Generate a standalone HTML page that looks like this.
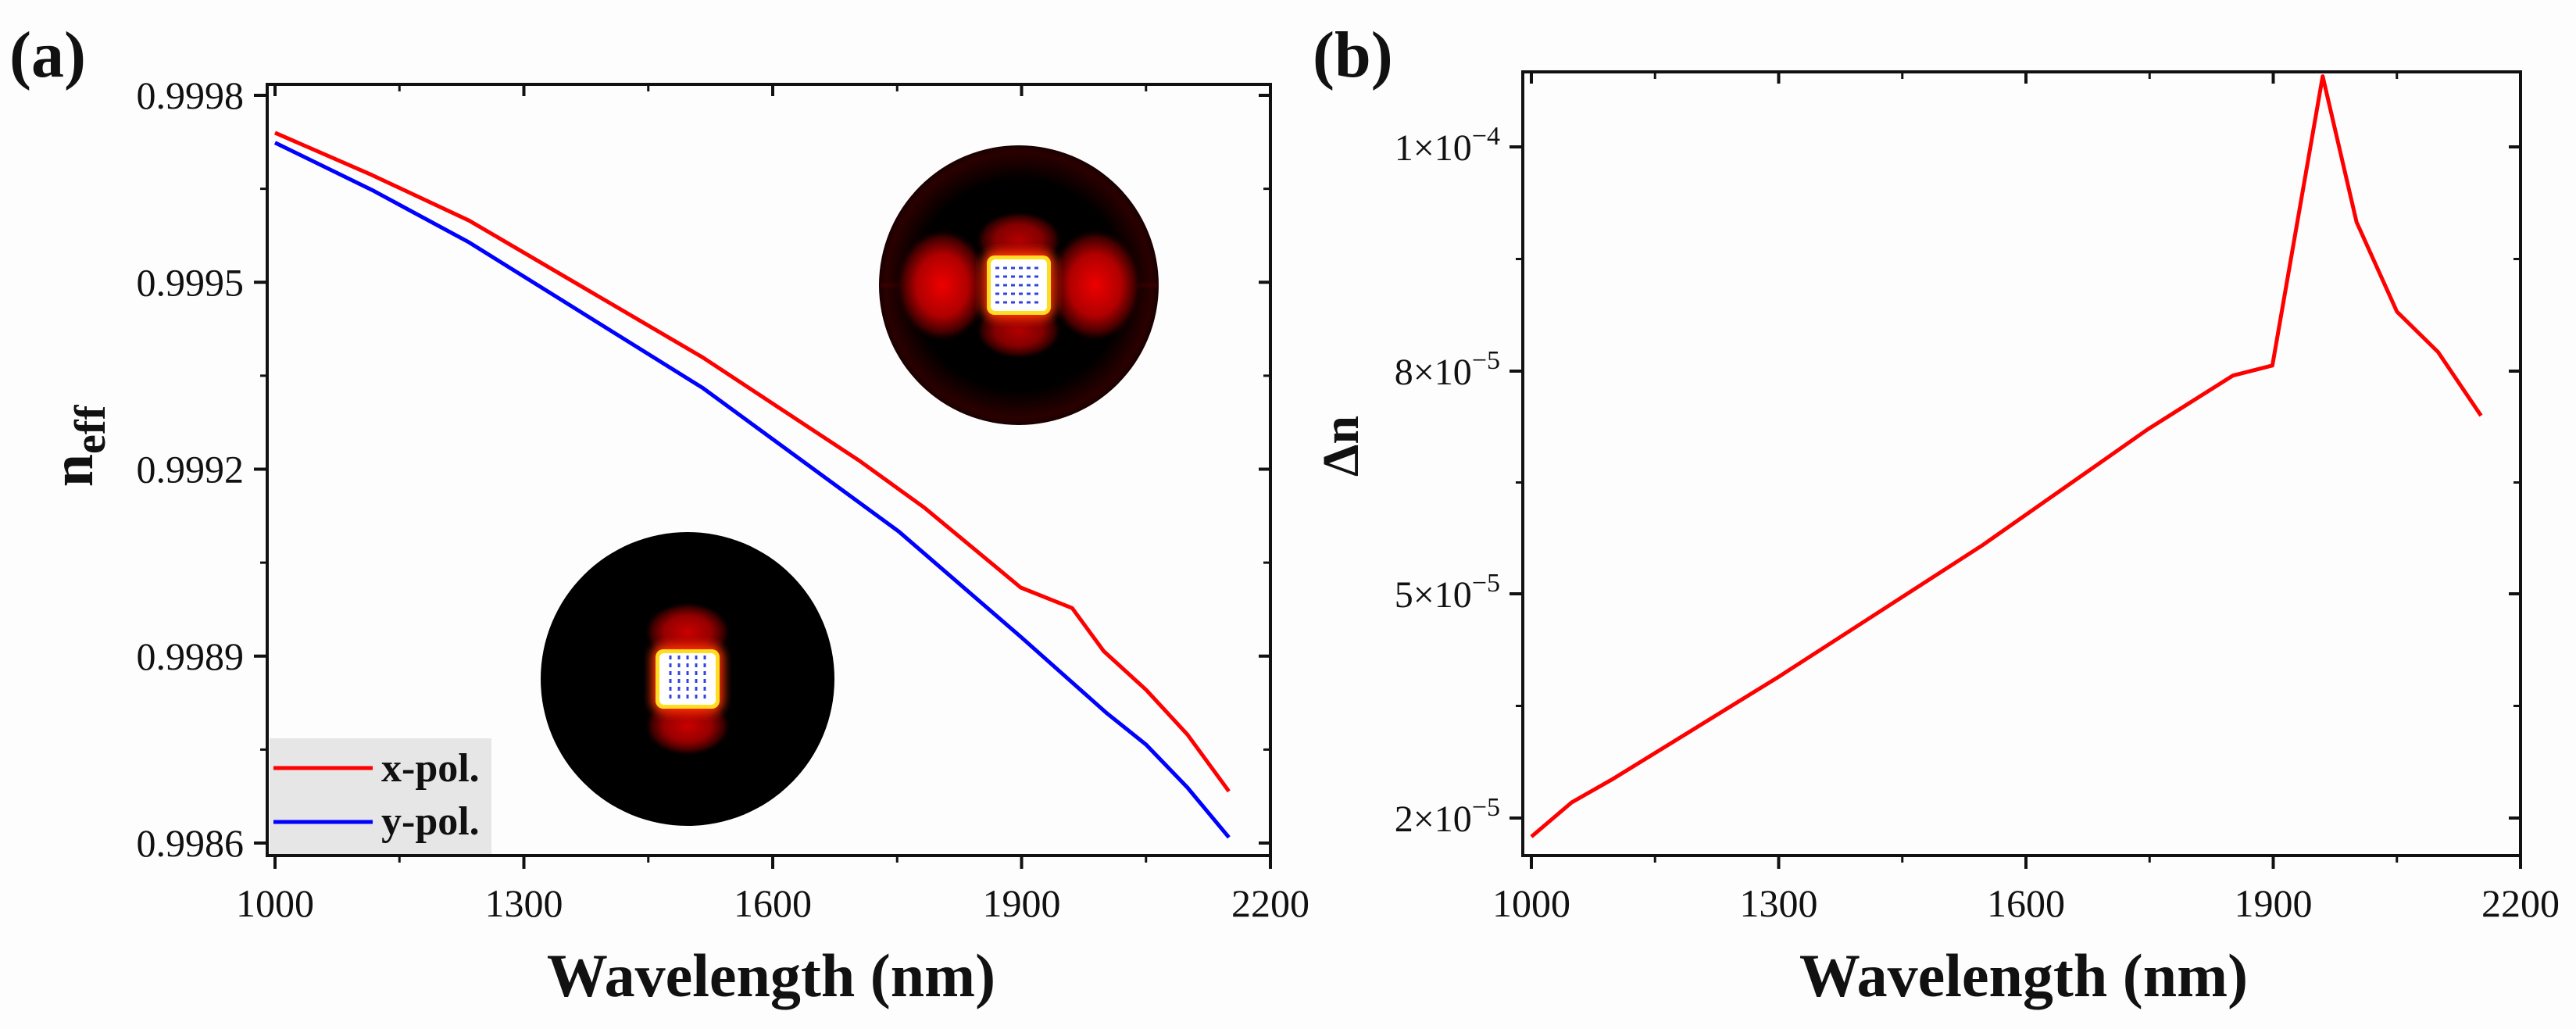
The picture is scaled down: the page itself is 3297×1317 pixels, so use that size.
<!DOCTYPE html>
<html><head><meta charset="utf-8"><style>
html,body{margin:0;padding:0;background:#fff}
svg{display:block}
text{font-family:"Liberation Serif",serif;fill:#111}
</style></head><body>
<svg id="fig" width="3297" height="1317" viewBox="0 0 3297 1317" xmlns="http://www.w3.org/2000/svg">
<defs>
<radialGradient id="lobe" cx="0.5" cy="0.5" r="0.5"><stop offset="0" stop-color="#ee0000"/><stop offset="0.55" stop-color="#b00000"/><stop offset="0.85" stop-color="#400000"/><stop offset="1" stop-color="#100000" stop-opacity="0"/></radialGradient>
<radialGradient id="ring" cx="0.5" cy="0.5" r="0.5"><stop offset="0.75" stop-color="#000"/><stop offset="0.95" stop-color="#2a0000"/><stop offset="1" stop-color="#1a0000"/></radialGradient>
<filter id="blur6"><feGaussianBlur stdDeviation="6"/></filter>
</defs>
<rect width="3297" height="1317" fill="#fdfdfd"/>
<g id="pa"></g>
<g id="pb"></g>
</svg>
<script>
// ---- Panel (a) data ----
const aWavelength = [1000, 1117, 1234, 1516, 1705, 1783, 1899, 1961, 1999, 2050, 2100, 2150];
const aXpol = [0.99974, 0.999672, 0.999599, 0.999379, 0.999213, 0.999138, 0.99901, 0.998977, 0.998908, 0.998846, 0.998774, 0.998683];
const aWavelengthY = [1000, 1117, 1234, 1516, 1752, 1899, 2003, 2050, 2100, 2150];
const aYpol = [0.999724, 0.999648, 0.999564, 0.99933, 0.9991, 0.998931, 0.998808, 0.998758, 0.998689, 0.998609];
const aXTicks = [1000, 1300, 1600, 1900, 2200];
const aYTicks = [0.9986, 0.9989, 0.9992, 0.9995, 0.9998];
const aYTickLabels = ["0.9986", "0.9989", "0.9992", "0.9995", "0.9998"];
// ---- Panel (b) data ----
const bWavelength = [1000, 1049, 1100, 1300, 1548, 1747, 1851, 1899, 1960, 2001, 2050, 2100, 2152];
const bDn = [1.75, 2.21, 2.53, 3.89, 5.66, 7.21, 7.94, 8.05, 10.63, 9.33, 8.53, 8.17, 7.4]; // ×1e-5
const bXTicks = [1000, 1300, 1600, 1900, 2200];
const bYTicks = [2, 5, 8, 10]; // ×1e-5
const bYTickMant = ["2", "5", "8", "1"];
const bYTickExp = ["−5", "−5", "−5", "−4"];

const NS = "http://www.w3.org/2000/svg";
function mk(parent, tag, attrs, txt) {
  const e = document.createElementNS(NS, tag);
  for (const k in attrs) e.setAttribute(k, attrs[k]);
  if (txt !== undefined) e.textContent = txt;
  parent.appendChild(e);
  return e;
}
const pa = document.getElementById('pa');
const pb = document.getElementById('pb');

const ax = v => 352 + (v - 1000) * (1626 - 352) / 1200;
const ay = v => 1079 - (v - 0.9986) * (1079 - 122) / 0.0012;
const bx = v => 1960 + (v - 1000) * (3226 - 1960) / 1200;
const bTickPx = [1047, 760, 475, 188];
function by(v) {
  let i = 0;
  if (v > bYTicks[1]) i = 1;
  if (v > bYTicks[2]) i = 2;
  return bTickPx[i] + (v - bYTicks[i]) * (bTickPx[i + 1] - bTickPx[i]) / (bYTicks[i + 1] - bYTicks[i]);
}

// ---- insets (panel a) ----
function inset(cx, cy, r, horiz, name) {
  const g = mk(pa, 'g', {});
  
  
  const cid = 'clip' + Math.round(cx);
  const cp = mk(document.querySelector('defs'), 'clipPath', {id: cid});
  mk(cp, 'circle', {cx: cx, cy: cy, r: r});
  mk(g, 'circle', {cx: cx, cy: cy, r: r, fill: horiz ? 'url(#ring)' : '#000'});
  const inner = mk(g, 'g', {'clip-path': 'url(#' + cid + ')'});
  if (horiz) {
    mk(inner, 'rect', {x: cx - r, y: cy - 3, width: 2 * r, height: 6, fill: '#400000', opacity: 0.5});
    mk(inner, 'ellipse', {cx: cx - 98, cy: cy, rx: 60, ry: 72, fill: 'url(#lobe)'});
    mk(inner, 'ellipse', {cx: cx + 98, cy: cy, rx: 60, ry: 72, fill: 'url(#lobe)'});
    mk(inner, 'ellipse', {cx: cx, cy: cy - 58, rx: 55, ry: 36, fill: 'url(#lobe)', opacity: 0.75});
    mk(inner, 'ellipse', {cx: cx, cy: cy + 58, rx: 55, ry: 36, fill: 'url(#lobe)', opacity: 0.75});
  } else {
    mk(inner, 'ellipse', {cx: cx, cy: cy - 60, rx: 55, ry: 38, fill: 'url(#lobe)', opacity: 0.85});
    mk(inner, 'ellipse', {cx: cx, cy: cy + 60, rx: 55, ry: 38, fill: 'url(#lobe)', opacity: 0.85});
  }
  mk(inner, 'rect', {x: cx - 46, y: cy - 44, width: 92, height: 88, rx: 16, fill: '#ff3300', filter: 'url(#blur6)'});
  mk(inner, 'rect', {x: cx - 41, y: cy - 38, width: 82, height: 76, rx: 10, fill: '#ffdd22'});
  mk(inner, 'rect', {x: cx - 36, y: cy - 33, width: 72, height: 66, rx: 6, fill: '#fff'});
  for (let k = -2; k <= 2; k++) {
    if (horiz) mk(inner, 'line', {x1: cx - 30, x2: cx + 30, y1: cy + k * 11, y2: cy + k * 11, stroke: '#3344dd', 'stroke-width': 3, 'stroke-dasharray': '5 5'});
    else mk(inner, 'line', {y1: cy - 30, y2: cy + 30, x1: cx + k * 11, x2: cx + k * 11, stroke: '#3344dd', 'stroke-width': 3, 'stroke-dasharray': '5 5'});
  }
}
inset(1304, 365, 179, true, 'x-pol-mode-inset');
inset(880, 869, 188, false, 'y-pol-mode-inset');

function frame(p, L, T, R, B, xs, xt, yPx, minorX, minorY, name) {
  const f = mk(p, 'rect', {x: L, y: T, width: R - L, height: B - T, fill: 'none', stroke: '#111', 'stroke-width': 4});
  
  
  xt.forEach(v => {
    const x = xs(v);
    mk(p, 'line', {x1: x, x2: x, y1: B, y2: B + 17, stroke: '#111', 'stroke-width': 4});
    mk(p, 'line', {x1: x, x2: x, y1: T, y2: T + 15, stroke: '#111', 'stroke-width': 4});
  });
  minorX.forEach(x => {
    mk(p, 'line', {x1: x, x2: x, y1: B, y2: B + 9, stroke: '#111', 'stroke-width': 3});
    mk(p, 'line', {x1: x, x2: x, y1: T, y2: T + 9, stroke: '#111', 'stroke-width': 3});
  });
  yPx.forEach(y => {
    mk(p, 'line', {x1: L - 17, x2: L, y1: y, y2: y, stroke: '#111', 'stroke-width': 4});
    mk(p, 'line', {x1: R - 15, x2: R, y1: y, y2: y, stroke: '#111', 'stroke-width': 4});
  });
  minorY.forEach(y => {
    mk(p, 'line', {x1: L - 9, x2: L, y1: y, y2: y, stroke: '#111', 'stroke-width': 3});
    mk(p, 'line', {x1: R - 9, x2: R, y1: y, y2: y, stroke: '#111', 'stroke-width': 3});
  });
}
const aMinX = [], bMinX = [];
for (let i = 0; i < aXTicks.length - 1; i++) { aMinX.push(ax((aXTicks[i] + aXTicks[i + 1]) / 2)); bMinX.push(bx((bXTicks[i] + bXTicks[i + 1]) / 2)); }
const aMinY = [];
for (let i = 0; i < aYTicks.length - 1; i++) aMinY.push(ay((aYTicks[i] + aYTicks[i + 1]) / 2));
const bMinY = [];
for (let i = 0; i < bYTicks.length - 1; i++) bMinY.push((by(bYTicks[i]) + by(bYTicks[i + 1])) / 2);
frame(pa, 342, 108, 1626, 1095, ax, aXTicks, aYTicks.map(ay), aMinX, aMinY, 'panel-a');
frame(pb, 1949, 92, 3226, 1095, bx, bXTicks, bYTicks.map(by), bMinX, bMinY, 'panel-b');

aXTicks.forEach(v => {
  const t = mk(pa, 'text', {x: ax(v), y: 1173, 'font-size': 50, 'text-anchor': 'middle'}, String(v));
  
  
});
aYTicks.forEach((v, i) => {
  const t = mk(pa, 'text', {x: 312, y: ay(v) + 17, 'font-size': 50, 'text-anchor': 'end'}, aYTickLabels[i]);
  
  
});
bXTicks.forEach(v => {
  const t = mk(pb, 'text', {x: bx(v), y: 1173, 'font-size': 50, 'text-anchor': 'middle'}, String(v));
  
  
});
bYTicks.forEach((v, i) => {
  const t = mk(pb, 'text', {x: 1920, y: by(v) + 17, 'font-size': 48, 'text-anchor': 'end'});
  
  
  mk(t, 'tspan', {}, bYTickMant[i] + '×10');
  mk(t, 'tspan', {'font-size': 34, dy: -20}, bYTickExp[i]);
});

function line(p, xs, ys, X, Y, color, name) {
  const d = X.map((v, i) => (i ? 'L' : 'M') + xs(v).toFixed(1) + ' ' + ys(Y[i]).toFixed(1)).join(' ');
  const e = mk(p, 'path', {d: d, fill: 'none', stroke: color, 'stroke-width': 5, 'stroke-linejoin': 'round'});
  
  
}
line(pa, ax, ay, aWavelength, aXpol, '#ff0000', 'x-pol-line');
line(pa, ax, ay, aWavelengthY, aYpol, '#0000ff', 'y-pol-line');
line(pb, bx, by, bWavelength, bDn, '#ff0000', 'delta-n-line');

const lg = mk(pa, 'g', {});


mk(lg, 'rect', {x: 345, y: 945, width: 284, height: 148, fill: '#e6e6e6'});
mk(lg, 'line', {x1: 350, x2: 477, y1: 983, y2: 983, stroke: '#ff0000', 'stroke-width': 5});
mk(lg, 'line', {x1: 350, x2: 477, y1: 1052, y2: 1052, stroke: '#0000ff', 'stroke-width': 5});
const l1 = mk(lg, 'text', {x: 488, y: 1000, 'font-size': 52, 'font-weight': 'bold'}, 'x-pol.');


const l2 = mk(lg, 'text', {x: 488, y: 1068, 'font-size': 52, 'font-weight': 'bold'}, 'y-pol.');



const xa = mk(pa, 'text', {x: 987, y: 1275, 'font-size': 78, 'font-weight': 'bold', 'text-anchor': 'middle'}, 'Wavelength (nm)');


const xb = mk(pb, 'text', {x: 2590, y: 1275, 'font-size': 78, 'font-weight': 'bold', 'text-anchor': 'middle'}, 'Wavelength (nm)');


const ya = mk(pa, 'text', {transform: 'translate(118,571) rotate(-90)', 'font-size': 76, 'font-weight': 'bold', 'text-anchor': 'middle'});


mk(ya, 'tspan', {}, 'n');
mk(ya, 'tspan', {'font-size': 56, dy: 16}, 'eff');
const yb = mk(pb, 'text', {transform: 'translate(1738,571) rotate(-90)', 'font-size': 66, 'font-weight': 'bold', 'text-anchor': 'middle'}, 'Δn');


const la = mk(pa, 'text', {x: 12, y: 98, 'font-size': 84, 'font-weight': 'bold'}, '(a)');


const lb = mk(pb, 'text', {x: 1680, y: 98, 'font-size': 84, 'font-weight': 'bold'}, '(b)');


</script>
</body></html>
